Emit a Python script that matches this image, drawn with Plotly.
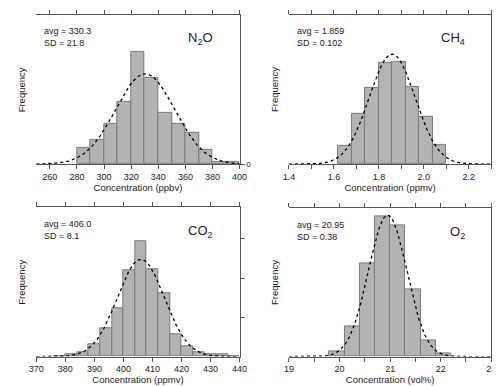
import numpy as np
import plotly.graph_objects as go

# N2O histogram (ppbv)
n2o_left = [280, 290, 300, 310, 320, 330, 340, 350, 360, 370, 380, 390]
n2o_counts = [17, 25, 41, 63, 114, 88, 52, 41, 32, 15, 2, 2]
n2o_avg, n2o_sd, n2o_peak = 330.3, 21.8, 92

# CH4 histogram (ppmv)
ch4_left = [1.62, 1.68, 1.74, 1.80, 1.86, 1.92, 1.98, 2.04]
ch4_counts = [19, 51, 78, 103, 104, 79, 48, 20]
ch4_avg, ch4_sd, ch4_peak = 1.859, 0.102, 112

# CO2 histogram (ppmv)
co2_left = [376, 380, 384, 388, 392, 396, 400, 404, 408, 412, 416, 420, 424, 428, 432, 436]
co2_counts = [0.7, 2.7, 4.7, 12.7, 29, 49, 88, 117, 89, 64, 23, 11, 4, 2.3, 2, 0.7]
co2_avg, co2_sd, co2_peak = 406.0, 8.1, 99

# O2 histogram (vol%)
o2_left = [19.8, 20.1, 20.4, 20.7, 21.0, 21.3, 21.6, 21.9]
o2_counts = [5, 31, 96, 144, 135, 69, 17, 3]
o2_avg, o2_sd, o2_peak = 20.95, 0.38, 145

# tick positions (top frame) and which of them carry a label (bottom)
n2o_ticks = [260, 280, 300, 320, 340, 360, 380, 400]
n2o_labels = ["260", "280", "300", "320", "340", "360", "380", "400"]
ch4_ticks = [1.4, 1.5, 1.6, 1.7, 1.8, 1.9, 2.0, 2.1, 2.2, 2.3]
ch4_labels = ["1.4", "", "1.6", "", "1.8", "", "2.0", "", "2.2", ""]
co2_ticks = [370, 380, 390, 400, 410, 420, 430, 440]
co2_labels = ["370", "380", "390", "400", "410", "420", "430", "440"]
o2_ticks = [19, 19.5, 20, 20.5, 21, 21.5, 22, 22.5, 23]
o2_labels = ["19", "", "20", "", "21", "", "22", "", "23"]

panels = [
    dict(left=n2o_left, w=10, counts=n2o_counts, avg=n2o_avg, sd=n2o_sd, peak=n2o_peak,
         rng=[250, 400], ticks=n2o_ticks, labels=n2o_labels,
         xdom=[0.042, 0.462], ydom=[0.590, 0.982], name="N<sub>2</sub>O",
         xlabel="Concentration (ppbv)", avg_txt="330.3", sd_txt="21.8",
         rticks=[0], rlabels=True),
    dict(left=ch4_left, w=0.06, counts=ch4_counts, avg=ch4_avg, sd=ch4_sd, peak=ch4_peak,
         rng=[1.4, 2.3], ticks=ch4_ticks, labels=ch4_labels,
         xdom=[0.564, 0.982], ydom=[0.590, 0.982], name="CH<sub>4</sub>",
         xlabel="Concentration (ppmv)", avg_txt="1.859", sd_txt="0.102",
         rticks=[], rlabels=False),
    dict(left=co2_left, w=4, counts=co2_counts, avg=co2_avg, sd=co2_sd, peak=co2_peak,
         rng=[370, 440], ticks=co2_ticks, labels=co2_labels,
         xdom=[0.042, 0.462], ydom=[0.085, 0.477], name="CO<sub>2</sub>",
         xlabel="Concentration (ppmv)", avg_txt="406.0", sd_txt="8.1",
         rticks=[40, 80, 120], rlabels=False),
    dict(left=o2_left, w=0.3, counts=o2_counts, avg=o2_avg, sd=o2_sd, peak=o2_peak,
         rng=[19, 23], ticks=o2_ticks, labels=o2_labels,
         xdom=[0.564, 0.982], ydom=[0.085, 0.474], name="O<sub>2</sub>",
         xlabel="Concentration (vol%)", avg_txt="20.95", sd_txt="0.38",
         rticks=[], rlabels=False),
]

FONT = "Liberation Sans, Arial, sans-serif"
LINE = "#555555"
fig = go.Figure()
layout = {}
annotations = []

for i, p in enumerate(panels):
    n = i + 1
    xa = "x" if n == 1 else f"x{n}"
    ya = "y" if n == 1 else f"y{n}"
    centers = [l + p["w"] / 2 for l in p["left"]]
    fig.add_trace(go.Bar(
        x=centers, y=p["counts"], width=p["w"], xaxis=xa, yaxis=ya,
        marker=dict(color="#b3b3b3", line=dict(color="#7a7a7a", width=1)),
        showlegend=False))
    # normal curve from the stated avg and SD
    xs = np.linspace(p["rng"][0], p["rng"][1], 300)
    ys = p["peak"] * np.exp(-0.5 * ((xs - p["avg"]) / p["sd"]) ** 2)
    fig.add_trace(go.Scatter(
        x=xs, y=ys, mode="lines", xaxis=xa, yaxis=ya,
        line=dict(color="black", width=1.3, dash="dot"), showlegend=False))

    xkey = "xaxis" if n == 1 else f"xaxis{n}"
    ykey = "yaxis" if n == 1 else f"yaxis{n}"
    layout[xkey] = dict(
        domain=p["xdom"], anchor=ya, range=p["rng"], tickvals=p["ticks"], ticktext=p["labels"],
        ticks="outside", ticklen=4, tickwidth=1, tickcolor=LINE, mirror="ticks",
        showgrid=False, zeroline=False, showline=True, linecolor=LINE, linewidth=1,
        tickfont=dict(size=9, color="#222", family=FONT),
        title=dict(text=p["xlabel"], font=dict(size=9.5, color="#222", family=FONT), standoff=0),
    )
    layout[ykey] = dict(
        domain=p["ydom"], anchor=xa, range=[0, 152], side="right",
        tickvals=p["rticks"], ticktext=[str(v) for v in p["rticks"]],
        showticklabels=p["rlabels"], ticks="outside" if p["rticks"] else "",
        ticklen=4, tickcolor=LINE, showgrid=False, zeroline=False, showline=True,
        linecolor=LINE, tickfont=dict(size=8, color="#222", family=FONT),
    )
    x0, x1 = p["xdom"]
    y0, y1 = p["ydom"]
    annotations.append(dict(
        x=x0 + 0.012, y=y1 - 0.025, xref="paper", yref="paper", xanchor="left", yanchor="top",
        align="left", showarrow=False,
        text=f"avg = {p['avg_txt']}<br>SD = {p['sd_txt']}",
        font=dict(size=9, color="#222", family=FONT)))
    annotations.append(dict(
        x=x1 - 0.05, y=y1 - 0.035, xref="paper", yref="paper", xanchor="right", yanchor="top",
        showarrow=False, text=p["name"], font=dict(size=13, color="#222", family=FONT)))
    annotations.append(dict(
        x=x0 - 0.03, y=(y0 + y1) / 2, xref="paper", yref="paper", xanchor="center",
        yanchor="middle", showarrow=False, textangle=-90, text="Frequency",
        font=dict(size=9.5, color="#222", family=FONT)))

fig.update_layout(
    width=500, height=386, margin=dict(l=0, r=0, t=0, b=0),
    paper_bgcolor="white", plot_bgcolor="white", bargap=0,
    annotations=annotations, **layout,
)
fig.write_html("out.html")
